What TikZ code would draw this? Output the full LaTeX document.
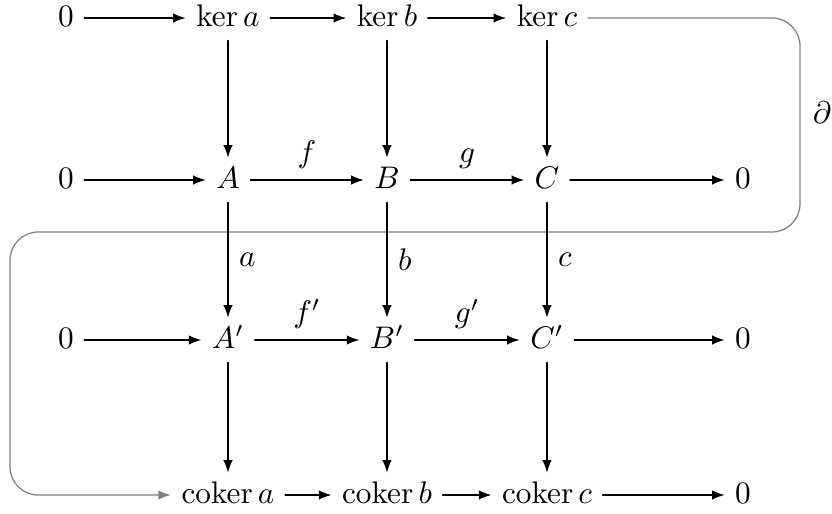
\documentclass[tikz,border=0pt]{standalone}
\usepackage{amsmath,amssymb}
\usetikzlibrary{arrows.meta,calc,positioning}
\tikzset{
  obj/.style={inner sep=3.2pt, text height=1.5ex, text depth=.25ex},
  map/.style={-{Latex[length=4pt,width=3pt]}},
  bdry/.style={draw=gray, rounded corners=9pt, -{Latex[length=4pt,width=3pt]}},
  every picture/.style={line cap=round, line join=round}
}
\begin{document}
\begin{tikzpicture}[x=0.32pt,y=-0.32pt]
  \useasboundingbox (0,0) rectangle (832,513);
  % top row: kernels
  \node[obj] (z1) at (66,18) {$0$};
  \node[obj] (ka) at (228,18) {$\ker a$};
  \node[obj] (kb) at (387,18) {$\ker b$};
  \node[obj] (kc) at (547,18) {$\ker c$};
  % first exact row
  \node[obj] (z2) at (66,180) {$0$};
  \node[obj] (A) at (228,180) {$A$};
  \node[obj] (B) at (387,180) {$B$};
  \node[obj] (C) at (547,180) {$C$};
  \node[obj] (z3) at (743,180) {$0$};
  % second exact row
  \node[obj] (z4) at (66,340) {$0$};
  \node[obj] (Ap) at (228,340) {$A'$};
  \node[obj] (Bp) at (387,340) {$B'$};
  \node[obj] (Cp) at (547,340) {$C'$};
  \node[obj] (z5) at (743,340) {$0$};
  % bottom row: cokernels
  \node[obj] (ca) at (228,495) {$\operatorname{coker} a$};
  \node[obj] (cb) at (387,495) {$\operatorname{coker} b$};
  \node[obj] (cc) at (547,495) {$\operatorname{coker} c$};
  \node[obj] (z6) at (743,495) {$0$};
  % connecting map
  \draw[bdry] (kc.east) -- (800,18) -- (800,232) -- (10,232) -- (10,495) -- (ca.west);
  \node (bd) at (822,113) {$\partial$};
  \draw[map] (z1)--(ka);
  \draw[map] (ka)--(kb);
  \draw[map] (kb)--(kc);
  \draw[map] (z2)--(A);
  \draw[map] (A)-- node[above] (f) {$f$} (B);
  \draw[map] (B)-- node[above] (g) {$g$} (C);
  \draw[map] (C)--(z3);
  \draw[map] (z4)--(Ap);
  \draw[map] (Ap)-- node[above] (fp) {$f'$} (Bp);
  \draw[map] (Bp)-- node[above] (gp) {$g'$} (Cp);
  \draw[map] (Cp)--(z5);
  \draw[map] (ca)--(cb);
  \draw[map] (cb)--(cc);
  \draw[map] (cc)--(z6);
  \draw[map] (ka)--(A);
  \draw[map] (kb)--(B);
  \draw[map] (kc)--(C);
  \draw[map] (A)-- node[right] (la) {$a$} (Ap);
  \draw[map] (B)-- node[right] (lb) {$b$} (Bp);
  \draw[map] (C)-- node[right] (lc) {$c$} (Cp);
  \draw[map] (Ap)--(ca);
  \draw[map] (Bp)--(cb);
  \draw[map] (Cp)--(cc);
\end{tikzpicture}
\end{document}
